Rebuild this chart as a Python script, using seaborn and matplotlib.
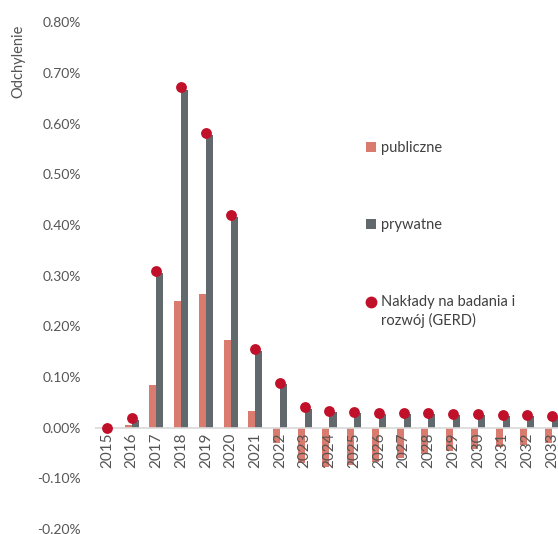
import matplotlib
matplotlib.use("Agg")
import matplotlib.pyplot as plt
from matplotlib.patches import Patch
from matplotlib.lines import Line2D
from matplotlib.legend_handler import HandlerBase
import seaborn as sns
import pandas as pd

years = [str(y) for y in range(2015, 2034)]
# deviations in percentage points
publiczne = [0.000, 0.005, 0.085, 0.250, 0.264, 0.173, 0.033, -0.030, -0.070, -0.077,
             -0.073, -0.067, -0.060, -0.053, -0.047, -0.042, -0.038, -0.035, -0.030]
prywatne = [0.000, 0.015, 0.305, 0.667, 0.577, 0.416, 0.152, 0.087, 0.037, 0.030,
            0.028, 0.027, 0.026, 0.026, 0.025, 0.024, 0.023, 0.022, 0.021]
gerd = [0.000, 0.019, 0.310, 0.672, 0.581, 0.420, 0.156, 0.089, 0.040, 0.032,
        0.030, 0.029, 0.028, 0.028, 0.027, 0.026, 0.025, 0.024, 0.023]
yticks = [-0.20, -0.10, 0.00, 0.10, 0.20, 0.30, 0.40, 0.50, 0.60, 0.70, 0.80]

PINK = "#d97b6e"
GREY = "#62696c"
RED = "#c0102a"
TXT = "#555555"

sns.set_theme(style="white")
plt.rcParams["font.family"] = ["Lato", "DejaVu Sans"]


class FirstLineDot(HandlerBase):
    """Legend dot aligned with the first line of a two-line label."""
    def create_artists(self, legend, orig_handle, xdescent, ydescent,
                       width, height, fontsize, trans):
        dot = Line2D([width / 2 - xdescent],
                     [height / 2 - ydescent + 0.66 * fontsize],
                     marker="o", color=RED, markersize=7.5, linestyle="none",
                     transform=trans)
        return [dot]


df = pd.DataFrame({
    "rok": years * 2,
    "wartosc": publiczne + prywatne,
    "sektor": ["publiczne"] * len(years) + ["prywatne"] * len(years),
})

fig = plt.figure(figsize=(5.58, 5.34), dpi=100)
ax = fig.add_axes([0.1695, 0.0094, 0.842, 0.949])

sns.barplot(data=df, x="rok", y="wartosc", hue="sektor", order=years,
            hue_order=["publiczne", "prywatne"], palette=[PINK, GREY],
            width=0.57, saturation=1, linewidth=0, edgecolor="none",
            ax=ax, legend=False)
sns.stripplot(x=years, y=gerd, order=years, jitter=False, size=7.8,
              color=RED, linewidth=0, zorder=5, ax=ax)

ax.axhline(0, color="#d9d9d9", lw=1.2, zorder=1)
ax.set_ylim(-0.2, 0.8)
ax.set_xlim(-0.5, len(years) - 0.5)
ax.set_yticks(yticks)
ax.set_yticklabels([f"{v:.2f}%" for v in yticks], color=TXT, fontsize=10)
ax.tick_params(axis="y", length=0, pad=10)
for sp in ax.spines.values():
    sp.set_visible(False)
ax.set_xlabel("")
ax.set_ylabel("")

# year labels sit just under the zero line, over the negative bars
ax.set_xticks(range(len(years)))
ax.set_xticklabels([])
ax.tick_params(axis="x", length=0)
for i, y in enumerate(years):
    ax.text(i, -0.009, y, rotation=90, ha="center", va="top",
            fontsize=11, color=TXT, zorder=10)

fig.text(0.033, 0.885, "Odchylenie", rotation=90, ha="center", va="center",
         fontsize=10.5, color=TXT)

handles = [
    Patch(facecolor=PINK, edgecolor="none"),
    Patch(facecolor=GREY, edgecolor="none"),
    Line2D([], [], marker="o", color=RED, linestyle="none", markersize=7.5),
]
labels = ["publiczne", "prywatne", "Nakłady na badania i\nrozwój (GERD)"]
leg = fig.legend(handles, labels, loc="upper left", bbox_to_anchor=(0.643, 0.749),
                 frameon=False, labelspacing=4.3, handlelength=0.7,
                 handleheight=0.7, handletextpad=0.35, borderpad=0,
                 labelcolor="#404040", prop={"size": 10.5},
                 handler_map={handles[2]: FirstLineDot()})
for t in leg.get_texts():
    t.set_linespacing(1.35)

fig.savefig("out.png", dpi=100)
